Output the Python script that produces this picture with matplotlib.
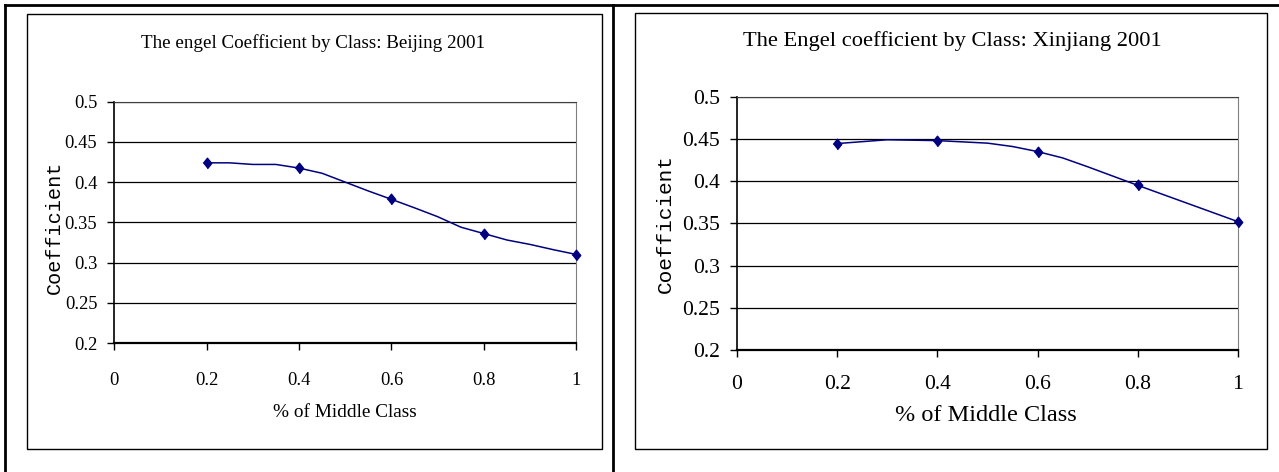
import matplotlib
matplotlib.use("Agg")
import matplotlib.pyplot as plt
from matplotlib.lines import Line2D
from matplotlib.patches import Rectangle

# values
bj_x = [0.2, 0.25, 0.3, 0.35, 0.4, 0.45, 0.5, 0.55, 0.6, 0.65, 0.7, 0.75, 0.8, 0.85, 0.9, 0.95, 1.0]
bj_y = [0.424, 0.424, 0.422, 0.422, 0.4175, 0.411, 0.400, 0.389, 0.3786, 0.368, 0.357, 0.344, 0.336, 0.328, 0.3225, 0.316, 0.310]
bj_mark_x = [0.2, 0.4, 0.6, 0.8, 1.0]
bj_mark_y = [0.424, 0.4175, 0.3786, 0.336, 0.310]

xj_x = [0.2, 0.3, 0.4, 0.5, 0.55, 0.6, 0.65, 0.7, 0.75, 0.8, 0.9, 1.0]
xj_y = [0.4445, 0.449, 0.448, 0.445, 0.441, 0.435, 0.4275, 0.417, 0.406, 0.395, 0.3735, 0.352]
xj_mark_x = [0.2, 0.4, 0.6, 0.8, 1.0]
xj_mark_y = [0.4445, 0.448, 0.435, 0.395, 0.352]

x_ticks = [0, 0.2, 0.4, 0.6, 0.8, 1.0]
x_ticklabels = ["0", "0.2", "0.4", "0.6", "0.8", "1"]
y_ticks = [0.2, 0.25, 0.3, 0.35, 0.4, 0.45, 0.5]
y_ticklabels = ["0.2", "0.25", "0.3", "0.35", "0.4", "0.45", "0.5"]

titles = ["The engel Coefficient by Class: Beijing 2001",
          "The Engel coefficient by Class: Xinjiang 2001"]

serif = "Liberation Serif"
mono = "Liberation Mono"
navy = "#000080"
diamond = [(-0.8, 0), (0, 1), (0.8, 0), (0, -1)]

W, H = 1279, 472
fig = plt.figure(figsize=(W / 100, H / 100), dpi=100)


def fx(px):
    return px / W


def fy(py):
    return 1 - py / H


# outer frame lines
fig.add_artist(Line2D([fx(5), 1], [fy(5), fy(5)], color="black", lw=2))
fig.add_artist(Line2D([fx(5), fx(5)], [fy(5), 0], color="black", lw=2))
fig.add_artist(Line2D([fx(613), fx(613)], [fy(5), 0], color="black", lw=2))

# chart area boxes
fig.add_artist(Rectangle((fx(27), fy(449)), fx(602 - 27), (449 - 14) / H,
                         fill=False, ec="black", lw=1))
fig.add_artist(Rectangle((fx(635), fy(449)), fx(1267 - 635), (449 - 13) / H,
                         fill=False, ec="black", lw=1))

panels = [
    dict(rect=[fx(114), fy(343), fx(576.5 - 114), (343 - 101.7) / H],
         x=bj_x, y=bj_y, mx=bj_mark_x, my=bj_mark_y, title=titles[0],
         fs_title=13.7, fs_tick=13.3, fs_xlab=13.9, fs_ylab=14.5, xpad=16,
         title_pos=(0.43, 1.243), xlab_pos=(0.5, -0.29), ylab_pos=(-0.128, 0.48)),
    dict(rect=[fx(737), fy(350), fx(1238 - 737), (350 - 96.7) / H],
         x=xj_x, y=xj_y, mx=xj_mark_x, my=xj_mark_y, title=titles[1],
         fs_title=16.2, fs_tick=15.6, fs_xlab=17.5, fs_ylab=15.2, xpad=13,
         title_pos=(0.429, 1.22), xlab_pos=(0.497, -0.257), ylab_pos=(-0.142, 0.5)),
]

for p in panels:
    ax = fig.add_axes(p["rect"])
    ax.plot(p["x"], p["y"], color=navy, lw=1.1, zorder=3)
    ax.plot(p["mx"], p["my"], ls="none", marker=diamond, ms=7.6,
            color=navy, zorder=4, clip_on=False)
    ax.set_xlim(0, 1)
    ax.set_ylim(0.2, 0.5)
    ax.set_xticks(x_ticks)
    ax.set_xticklabels(x_ticklabels, fontfamily=serif, fontsize=p["fs_tick"])
    ax.set_yticks(y_ticks)
    ax.set_yticklabels(y_ticklabels, fontfamily=serif, fontsize=p["fs_tick"])
    ax.tick_params(axis="y", direction="out", length=5, width=1, pad=7)
    ax.tick_params(axis="x", direction="out", length=5, width=1, pad=p["xpad"])
    for yv in y_ticks[1:]:
        ax.axhline(yv, color="black", lw=0.9, zorder=1)
    ax.spines["left"].set_linewidth(1.2)
    ax.spines["bottom"].set_linewidth(1.6)
    ax.spines["right"].set_color("#808080")
    ax.spines["top"].set_color("#404040")
    ax.text(p["title_pos"][0], p["title_pos"][1], p["title"], transform=ax.transAxes,
            ha="center", va="center", fontfamily=serif, fontsize=p["fs_title"])
    ax.set_xlabel("% of Middle Class", fontfamily=serif, fontsize=p["fs_xlab"])
    ax.xaxis.set_label_coords(*p["xlab_pos"])
    ax.xaxis.label.set_va("center")
    ax.set_ylabel("Coefficient", fontfamily=mono, fontsize=p["fs_ylab"])
    ax.yaxis.set_label_coords(*p["ylab_pos"])
    ax.yaxis.label.set_va("center")

fig.savefig("out.png", dpi=100)
